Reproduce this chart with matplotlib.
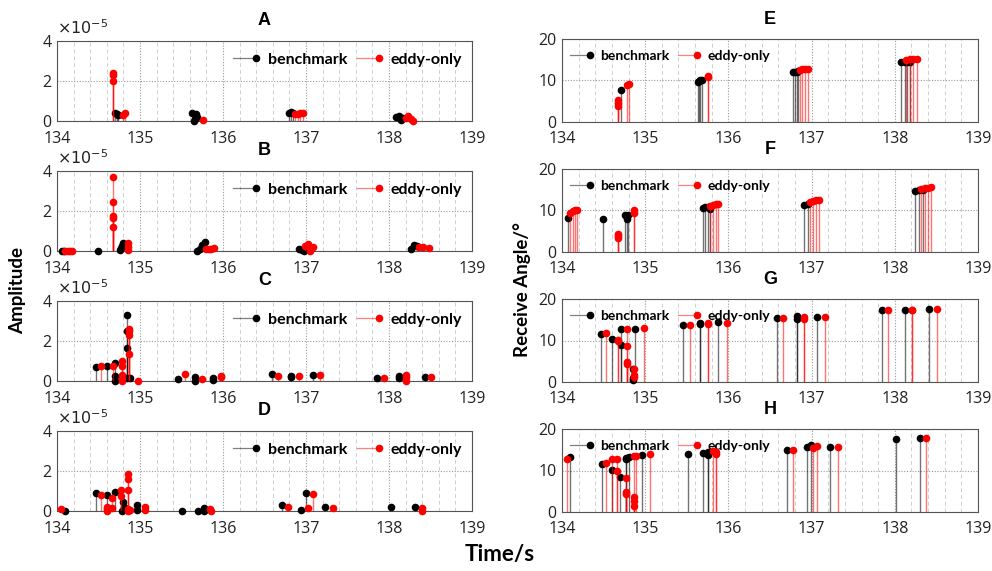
import matplotlib
matplotlib.use("Agg")
import matplotlib.pyplot as plt
from matplotlib.lines import Line2D
from matplotlib.legend_handler import HandlerBase
from matplotlib.ticker import MultipleLocator

# ---------------- data ----------------
xticks = [134, 135, 136, 137, 138, 139]
amp_yticks = [0, 2, 4]
ang_yticks = [0, 10, 20]
amp_scale_label = r"$\times10^{-5}$"

# amplitude panels (values in units of 1e-5)
A_bench_t = [134.70, 134.72, 134.73, 135.63, 135.65, 135.66, 135.67, 135.69, 136.80, 136.82, 136.84, 138.09, 138.12, 138.14, 138.17]
A_bench_v = [0.40, 0.35, 0.30, 0.40, 0.00, 0.10, 0.35, 0.20, 0.40, 0.45, 0.40, 0.20, 0.25, 0.05, 0.15]
A_eddy_t = [134.67, 134.67, 134.67, 134.79, 134.82, 135.76, 136.87, 136.90, 136.93, 136.96, 138.20, 138.23, 138.26, 138.29]
A_eddy_v = [2.40, 2.30, 2.00, 0.30, 0.42, 0.05, 0.35, 0.35, 0.38, 0.40, 0.15, 0.25, 0.12, 0.02]

B_bench_t = [134.06, 134.09, 134.49, 134.76, 134.77, 134.78, 134.79, 134.80, 135.69, 135.72, 135.75, 135.78, 136.92, 136.95, 136.97, 138.26, 138.30, 138.34]
B_bench_v = [0.0, 0.0, 0.0, 0.05, 0.15, 0.25, 0.35, 0.40, 0.0, 0.10, 0.30, 0.45, 0.10, 0.05, 0.0, 0.10, 0.30, 0.25]
B_eddy_t = [134.10, 134.13, 134.16, 134.18, 134.67, 134.67, 134.67, 134.67, 134.67, 134.86, 134.86, 134.86, 135.79, 135.83, 135.86, 135.89, 136.99, 137.03, 137.05, 137.09, 138.36, 138.41, 138.48]
B_eddy_v = [0.0, 0.0, 0.0, 0.0, 3.70, 2.45, 1.75, 1.65, 1.20, 0.40, 0.20, 0.05, 0.10, 0.10, 0.12, 0.15, 0.25, 0.35, 0.0, 0.20, 0.20, 0.20, 0.15]

C_bench_t = [134.47, 134.60, 134.70, 134.70, 134.70, 134.84, 134.84, 134.84, 134.84, 134.88, 135.46, 135.66, 135.66, 135.88, 135.88, 136.59, 136.82, 136.82, 137.08, 137.86, 138.12, 138.12, 138.43]
C_bench_v = [0.70, 0.75, 0.90, 0.25, 0.0, 3.30, 2.50, 1.65, 0.15, 0.15, 0.10, 0.20, 0.0, 0.15, 0.05, 0.35, 0.25, 0.20, 0.30, 0.15, 0.25, 0.15, 0.20]
C_eddy_t = [134.53, 134.67, 134.78, 134.78, 134.78, 134.78, 134.78, 134.87, 134.87, 134.87, 134.87, 134.98, 135.54, 135.75, 135.98, 135.98, 136.66, 136.91, 137.17, 137.94, 138.21, 138.21, 138.21, 138.51]
C_eddy_v = [0.75, 0.75, 1.00, 0.75, 0.30, 0.15, 0.0, 2.60, 2.50, 2.30, 1.35, 0.0, 0.35, 0.10, 0.25, 0.20, 0.25, 0.25, 0.30, 0.15, 0.30, 0.20, 0.0, 0.20]

D_bench_t = [134.10, 134.47, 134.60, 134.60, 134.70, 134.78, 134.80, 134.81, 134.82, 134.96, 134.96, 135.51, 135.70, 135.77, 135.77, 136.71, 136.94, 137.00, 137.23, 138.02, 138.31]
D_bench_v = [0.0, 0.90, 0.80, 0.10, 0.95, 0.0, 0.45, 0.20, 0.10, 0.30, 0.05, 0.0, 0.0, 0.15, 0.0, 0.30, 0.05, 0.90, 0.20, 0.20, 0.20]
D_eddy_t = [134.05, 134.53, 134.60, 134.60, 134.66, 134.66, 134.77, 134.77, 134.86, 134.86, 134.86, 134.86, 134.86, 134.88, 135.06, 135.06, 135.84, 135.86, 136.78, 137.02, 137.08, 137.32, 138.40, 138.40]
D_eddy_v = [0.10, 0.80, 0.20, 0.0, 0.65, 0.15, 1.05, 0.75, 1.85, 1.60, 1.05, 0.10, 0.0, 0.05, 0.20, 0.05, 0.10, 0.0, 0.20, 0.15, 0.85, 0.15, 0.15, 0.0]

# receive-angle panels (degrees)
E_bench_t = [134.71, 135.63, 135.65, 135.66, 135.68, 136.78, 136.80, 136.82, 136.84, 138.08, 138.12, 138.15, 138.18]
E_bench_v = [7.7, 9.6, 9.8, 10.0, 10.1, 12.0, 12.0, 12.1, 12.2, 14.4, 14.5, 14.5, 14.6]
E_eddy_t = [134.67, 134.67, 134.67, 134.78, 134.81, 135.76, 135.76, 136.86, 136.89, 136.92, 136.96, 138.14, 138.18, 138.22, 138.27]
E_eddy_v = [5.2, 4.5, 3.8, 9.0, 9.2, 10.8, 11.2, 12.6, 12.8, 12.9, 12.8, 15.0, 15.1, 15.2, 15.3]

F_bench_t = [134.07, 134.49, 134.76, 134.78, 134.79, 135.70, 135.72, 135.75, 135.78, 136.91, 136.96, 138.24, 138.29, 138.34]
F_bench_v = [8.2, 8.0, 8.8, 8.0, 9.0, 10.5, 10.8, 10.9, 10.3, 11.4, 11.5, 14.8, 14.9, 14.9]
F_eddy_t = [134.10, 134.13, 134.16, 134.18, 134.67, 134.67, 134.67, 134.86, 134.86, 135.78, 135.82, 135.85, 135.88, 136.98, 137.02, 137.05, 137.09, 138.32, 138.36, 138.40, 138.44]
F_eddy_v = [9.5, 9.8, 10.0, 10.1, 4.3, 3.8, 3.3, 10.0, 9.5, 11.2, 11.4, 11.5, 11.6, 12.0, 12.3, 12.5, 12.6, 15.3, 15.4, 15.5, 15.6]

G_bench_t = [134.47, 134.60, 134.71, 134.71, 134.85, 134.85, 134.85, 134.88, 135.46, 135.66, 135.66, 135.87, 136.58, 136.82, 136.82, 137.07, 137.85, 138.12, 138.41]
G_bench_v = [11.6, 10.4, 12.7, 9.0, 3.2, 1.0, 0.5, 12.8, 13.7, 14.1, 14.3, 14.5, 15.5, 15.3, 15.9, 15.7, 17.3, 17.5, 17.7]
G_eddy_t = [134.53, 134.67, 134.67, 134.78, 134.78, 134.78, 134.78, 134.87, 134.87, 134.87, 134.98, 135.54, 135.75, 135.75, 135.98, 136.66, 136.91, 136.91, 137.16, 137.92, 138.21, 138.21, 138.51]
G_eddy_v = [11.8, 10.1, 9.9, 12.9, 8.6, 4.8, 4.3, 3.1, 1.6, 1.2, 13.0, 13.8, 14.0, 14.3, 14.3, 15.5, 15.2, 15.8, 15.7, 17.3, 17.3, 17.5, 17.7]

H_bench_t = [134.10, 134.48, 134.60, 134.70, 134.77, 134.77, 134.80, 134.96, 135.51, 135.69, 135.76, 135.76, 136.71, 136.94, 136.99, 137.22, 138.02, 138.30]
H_bench_v = [13.3, 11.6, 10.1, 8.4, 12.7, 13.1, 13.3, 13.8, 14.1, 14.2, 14.6, 13.8, 15.0, 15.6, 16.2, 15.8, 17.7, 17.9]
H_eddy_t = [134.06, 134.53, 134.60, 134.66, 134.66, 134.77, 134.77, 134.77, 134.86, 134.86, 134.86, 134.86, 134.89, 135.06, 135.81, 135.85, 135.85, 136.78, 137.02, 137.07, 137.32, 138.38]
H_eddy_v = [12.7, 11.8, 12.8, 12.9, 9.8, 8.3, 4.8, 4.4, 13.4, 3.5, 2.5, 1.3, 13.5, 13.9, 14.8, 14.4, 14.1, 15.0, 15.4, 16.0, 15.7, 17.8]

series_labels = ["benchmark", "eddy-only"]
left_titles = ["A", "B", "C", "D"]
right_titles = ["E", "F", "G", "H"]

# ---------------- styling ----------------
TICK_FONT = "Open Sans"
BOLD_FONT = "Lato"
TITLE_FONT = "Liberation Sans"
BLACK = "#000000"
RED = "#ff0000"

fig = plt.figure(figsize=(9.92, 5.71), dpi=100)
W, H = 992.0, 571.0


class StemHandler(HandlerBase):
    """Legend entry like MATLAB's stem: thin line with marker at its right end."""

    def create_artists(self, legend, orig_handle, xdescent, ydescent, width, height,
                       fontsize, trans):
        y = height / 2.0 - ydescent
        c = orig_handle.get_color()
        line = Line2D([-xdescent, width - xdescent], [y, y], color=c, alpha=0.5, linewidth=0.9)
        mark = Line2D([width - xdescent], [y], linestyle="none", marker="o", color=c,
                      markersize=5.5, markeredgewidth=0)
        line.set_transform(trans)
        mark.set_transform(trans)
        return [line, mark]


def make_axes(x0, x1, ytop, ybot):
    return fig.add_axes([x0 / W, 1 - ybot / H, (x1 - x0) / W, (ybot - ytop) / H])


def style_axes(ax, ylim, yticks):
    ax.set_xlim(134, 139)
    ax.set_ylim(*ylim)
    ax.set_xticks(xticks)
    ax.set_yticks(yticks)
    ax.xaxis.set_minor_locator(MultipleLocator(0.2))
    ax.grid(True, which="major", linestyle=(0, (1, 1.5)), color="#9a9a9a", linewidth=0.8)
    ax.grid(True, which="minor", axis="x", linestyle=(0, (4, 3)), color="#cfcfcf", linewidth=0.7)
    ax.set_axisbelow(True)
    for s in ax.spines.values():
        s.set_color("#555555")
        s.set_linewidth(0.8)
    ax.tick_params(which="both", direction="in", length=0, labelsize=11.5, colors="#222222")
    ax.tick_params(axis="x", pad=7)
    ax.tick_params(axis="y", pad=4)
    for lab in ax.get_xticklabels() + ax.get_yticklabels():
        lab.set_fontfamily(TICK_FONT)


def draw_stems(ax, t, v, color, alpha, z):
    ax.vlines(t, 0, v, colors=color, alpha=alpha, linewidth=1.0, zorder=z)
    ax.plot(t, v, "o", color=color, markersize=5.5, markeredgewidth=0, zorder=z + 1, clip_on=False)


def add_legend(ax, loc, fs, anchor):
    h1 = Line2D([], [], color=BLACK)
    h2 = Line2D([], [], color=RED)
    leg = ax.legend([h1, h2], series_labels, loc=loc, bbox_to_anchor=anchor, ncol=2, frameon=False,
                    handler_map={Line2D: StemHandler()},
                    handlelength=1.4, handletextpad=0.75, columnspacing=0.6,
                    prop={"family": BOLD_FONT, "weight": "bold", "size": fs}, borderaxespad=0.2)
    return leg


left_data = [(A_bench_t, A_bench_v, A_eddy_t, A_eddy_v),
             (B_bench_t, B_bench_v, B_eddy_t, B_eddy_v),
             (C_bench_t, C_bench_v, C_eddy_t, C_eddy_v),
             (D_bench_t, D_bench_v, D_eddy_t, D_eddy_v)]
right_data = [(E_bench_t, E_bench_v, E_eddy_t, E_eddy_v),
              (F_bench_t, F_bench_v, F_eddy_t, F_eddy_v),
              (G_bench_t, G_bench_v, G_eddy_t, G_eddy_v),
              (H_bench_t, H_bench_v, H_eddy_t, H_eddy_v)]

row_offsets = [0, 130, 260, 390]

for i in range(4):
    off = row_offsets[i]
    # left amplitude panel
    ax = make_axes(57, 472, 40.7 + off, 121 + off)
    style_axes(ax, (0, 4), amp_yticks)
    bt, bv, et, ev = left_data[i]
    draw_stems(ax, bt, bv, BLACK, 0.55, 3)
    draw_stems(ax, et, ev, RED, 0.55, 5)
    ax.set_title(left_titles[i], fontfamily=TITLE_FONT, fontweight="bold", fontsize=13, pad=11)
    ax.text(0.0, 1.03, amp_scale_label, transform=ax.transAxes, fontsize=11.5,
            fontfamily=TICK_FONT, color="#222222", ha="left", va="bottom")
    add_legend(ax, "upper right", 11.5, (1.0, 0.97))

    # right angle panel
    ax2 = make_axes(562, 978, 39.3 + off, 121.7 + off)
    style_axes(ax2, (0, 20), ang_yticks)
    bt, bv, et, ev = right_data[i]
    draw_stems(ax2, bt, bv, BLACK, 0.55, 3)
    draw_stems(ax2, et, ev, RED, 0.55, 5)
    ax2.set_title(right_titles[i], fontfamily=TITLE_FONT, fontweight="bold", fontsize=13, pad=11)
    add_legend(ax2, "upper left", 10, (0.0, 0.97))

fig.text(18 / W, 1 - 290 / H, "Amplitude", rotation=90, ha="center", va="center",
         fontfamily=BOLD_FONT, fontweight="bold", fontsize=13.5)
fig.text(522 / W, 1 - 290 / H, "Receive Angle/°", rotation=90, ha="center", va="center",
         fontfamily=BOLD_FONT, fontweight="bold", fontsize=13.5)
fig.text(500 / W, 1 - 555 / H, "Time/s", ha="center", va="center",
         fontfamily=BOLD_FONT, fontweight="bold", fontsize=16)

fig.savefig("out.png", dpi=100)
